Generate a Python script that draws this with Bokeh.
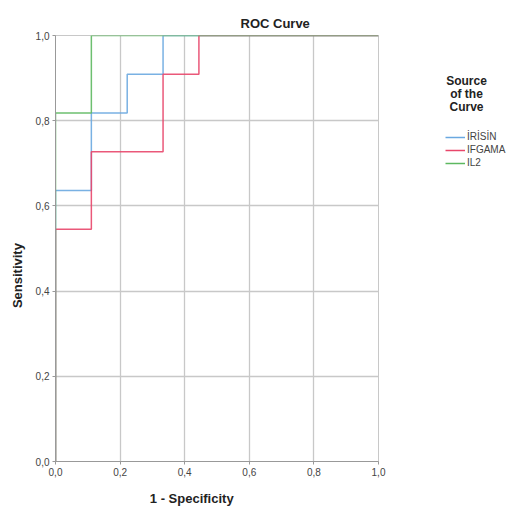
from bokeh.plotting import figure
from bokeh.layouts import row
from bokeh.models import Legend, LegendItem, FixedTicker, Range1d
from bokeh.core.properties import value
from bokeh.embed import file_html
from bokeh.resources import INLINE

# ROC step curves (1 - specificity, sensitivity)
irisin_fpr = [0.0, 0.0, 0.111, 0.111, 0.222, 0.222, 0.333, 0.333, 1.0]
irisin_tpr = [0.0, 0.636, 0.636, 0.818, 0.818, 0.909, 0.909, 1.0, 1.0]
ifgama_fpr = [0.0, 0.0, 0.111, 0.111, 0.333, 0.333, 0.444, 0.444, 1.0]
ifgama_tpr = [0.0, 0.545, 0.545, 0.727, 0.727, 0.909, 0.909, 1.0, 1.0]
il2_fpr = [0.0, 0.0, 0.111, 0.111, 1.0]
il2_tpr = [0.0, 0.818, 0.818, 1.0, 1.0]

series_names = ["İRİSİN", "IFGAMA", "IL2"]
series_colors = ["#6AA8E0", "#E8466A", "#5DB860"]
tick_values = [0.0, 0.2, 0.4, 0.6, 0.8, 1.0]
tick_labels = ["0,0", "0,2", "0,4", "0,6", "0,8", "1,0"]
legend_title_lines = ["Source", "of the", "Curve"]

FONT = "Liberation Sans"
NB = "\u00a0"

p = figure(width=388, height=511, output_backend="svg", toolbar_location=None,
           x_range=Range1d(0, 1), y_range=Range1d(0, 1),
           min_border_left=55, min_border_right=10, min_border_top=35, min_border_bottom=50)

p.title.text = "ROC Curve"
p.title.align = "left"
p.title.offset = 185
p.title.text_font = FONT
p.title.text_font_size = "13px"
p.title.text_font_style = "bold"
p.title.text_color = "#222222"

for xs, ys, c in zip([irisin_fpr, ifgama_fpr, il2_fpr], [irisin_tpr, ifgama_tpr, il2_tpr], series_colors):
    p.line(xs, ys, line_color=c, line_width=1.5, line_alpha=0.9)

for ax in (p.xaxis[0], p.yaxis[0]):
    ax.ticker = FixedTicker(ticks=tick_values)
    ax.major_label_overrides = {v: l for v, l in zip(tick_values, tick_labels)}
    ax.major_label_text_font = FONT
    ax.major_label_text_font_size = "10px"
    ax.major_label_text_color = "#444444"
    ax.major_label_standoff = 3
    ax.axis_line_color = "#999999"
    ax.major_tick_line_color = "#999999"
    ax.major_tick_out = 3
    ax.major_tick_in = 0
    ax.minor_tick_line_color = None
    ax.axis_label_text_font = FONT
    ax.axis_label_text_font_size = "13px"
    ax.axis_label_text_font_style = "bold"
    ax.axis_label_text_color = "#222222"

p.xaxis.axis_label = "1 - Specificity" + NB * 14
p.yaxis.axis_label = "Sensitivity" + NB * 15
p.xaxis.axis_label_standoff = 12
p.yaxis.axis_label_standoff = 8

p.grid.grid_line_color = "#C8C8C8"
p.grid.grid_line_width = 1.3
p.outline_line_color = "#C8C8C8"
p.background_fill_color = "white"
p.border_fill_color = "white"

# legend panel (frame aligned with main frame; pixel-like coordinates, y downwards)
p2 = figure(width=120, height=511, output_backend="svg", toolbar_location=None,
            x_range=Range1d(0, 120), y_range=Range1d(461, 35),
            min_border_left=0, min_border_right=0, min_border_top=0, min_border_bottom=0)
p2.axis.visible = False
p2.grid.visible = False
p2.outline_line_color = None
p2.border_fill_color = "white"

p2.text(x=[78] * 3, y=[80, 93, 106], text=legend_title_lines,
        text_font=value(FONT), text_font_size="12px", text_font_style="bold",
        text_color="#222222", text_align="center", text_baseline="middle")

dummies = [p2.line([-20, -10], [600, 610], line_color=c, line_width=1.5) for c in series_colors]
legend = Legend(items=[LegendItem(label=n, renderers=[r]) for n, r in zip(series_names, dummies)],
                location=(57, 293))
legend.label_text_font = FONT
legend.label_text_font_size = "10px"
legend.label_text_color = "#444444"
legend.glyph_width = 20
legend.glyph_height = 10
legend.label_height = 10
legend.spacing = 2
legend.padding = 2
legend.margin = 0
legend.label_standoff = 2
legend.border_line_color = None
legend.background_fill_alpha = 0
p2.add_layout(legend)

layout = row(p, p2)
open("out.html", "w").write(file_html(layout, INLINE))
